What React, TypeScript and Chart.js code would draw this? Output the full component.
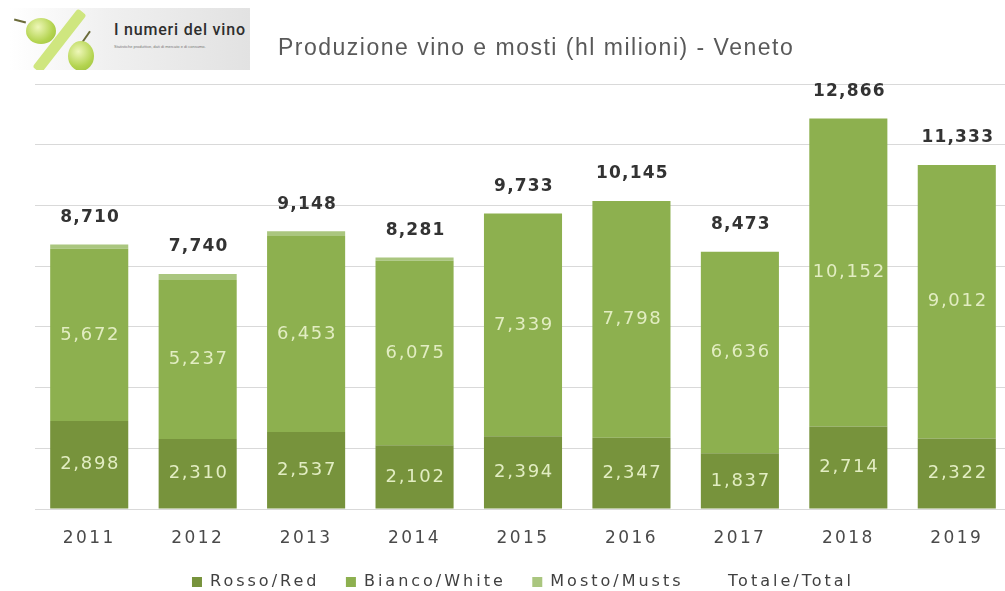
import React, { useEffect, useRef } from "react";
import { Chart, registerables } from "chart.js";
Chart.register(...registerables);

const years = ["2011", "2012", "2013", "2014", "2015", "2016", "2017", "2018", "2019"];
const rosso = [2898, 2310, 2537, 2102, 2394, 2347, 1837, 2714, 2322];
const bianco = [5672, 5237, 6453, 6075, 7339, 7798, 6636, 10152, 9012];
const mosto = [140, 193, 158, 104, 0, 0, 0, 0, 0];
const totale = [8710, 7740, 9148, 8281, 9733, 10145, 8473, 12866, 11333];
const seriesNames = ["Rosso/Red", "Bianco/White", "Mosto/Musts", "Totale/Total"];
const title = "Produzione vino e mosti (hl milioni) - Veneto";

const C_ROSSO = "#77933c";
const C_BIANCO = "#8db04f";
const C_MOSTO = "#aac67f";

const fmt = (v: number) => v.toLocaleString("en-US");

const spacingPlugin = {
  id: "spacing",
  beforeLayout(chart: any) {
    chart.ctx.letterSpacing = "3px";
  },
  beforeDraw(chart: any) {
    chart.ctx.letterSpacing = "3px";
  },
};

const labelPlugin = {
  id: "labels",
  afterDatasetsDraw(chart: any) {
    const ctx = chart.ctx;
    ctx.save();
    ctx.textAlign = "center";
    ctx.textBaseline = "middle";
    ctx.font = "18px 'DejaVu Sans'";
    ctx.letterSpacing = "1.7px";
    ctx.fillStyle = "#e2edc2";
    [0, 1].forEach((di) => {
      const meta = chart.getDatasetMeta(di);
      meta.data.forEach((el: any, i: number) => {
        const v = chart.data.datasets[di].data[i];
        ctx.fillText(fmt(v), el.x + 1, (el.y + el.base) / 2);
      });
    });
    const ys = chart.scales.y;
    const meta0 = chart.getDatasetMeta(0);
    ctx.font = "bold 17px 'DejaVu Sans'";
    ctx.letterSpacing = "1.2px";
    ctx.fillStyle = "#333333";
    totale.forEach((t, i) => {
      const x = meta0.data[i].x;
      ctx.fillText(fmt(t), x + 1, ys.getPixelForValue(t) - 27);
    });
    ctx.restore();
    // spacing for x-axis labels drawn afterwards (ticks z = 1)
    ctx.letterSpacing = "2.4px";
  },
};

export default function App() {
  const ref = useRef<HTMLCanvasElement>(null);
  useEffect(() => {
    const chart = new Chart(ref.current!, {
      type: "bar",
      data: {
        labels: years,
        datasets: [
          { label: seriesNames[0], data: rosso, backgroundColor: C_ROSSO, stack: "s", categoryPercentage: 0.72, barPercentage: 1 } as any,
          { label: seriesNames[1], data: bianco, backgroundColor: C_BIANCO, stack: "s", categoryPercentage: 0.72, barPercentage: 1 } as any,
          { label: seriesNames[2], data: mosto, backgroundColor: C_MOSTO, stack: "s", categoryPercentage: 0.72, barPercentage: 1 } as any,
          {
            type: "line",
            label: seriesNames[3],
            data: totale,
            backgroundColor: "rgba(0,0,0,0)",
            borderColor: "rgba(0,0,0,0)",
            showLine: false,
            pointRadius: 0,
            stack: "t",
          } as any,
        ],
      },
      options: {
        animation: false,
        responsive: false,
        maintainAspectRatio: false,
        layout: { padding: { left: 35, right: 0, top: 84, bottom: 0 } },
        plugins: {
          legend: {
            position: "bottom",
            labels: {
              boxWidth: 10,
              boxHeight: 10,
              padding: 26.5,
              color: "#404040",
              font: { family: "'DejaVu Sans'", size: 16, lineHeight: 1 },
            },
          },
          tooltip: { enabled: false },
          title: { display: false },
        },
        scales: {
          x: {
            stacked: true,
            grid: { display: false, drawTicks: false },
            border: { display: false },
            ticks: { z: 1, color: "#4a4a4a", padding: 21, font: { family: "'DejaVu Sans'", size: 17, lineHeight: 1 } },
            afterFit(scale: any) {
              scale.height = 38.5;
            },
          } as any,
          y: {
            stacked: true,
            min: 0,
            max: 14000,
            ticks: { display: false, stepSize: 2000 },
            grid: { color: "#d9d9d9", drawTicks: false, lineWidth: 1 },
            border: { display: false },
          },
        },
      },
      plugins: [spacingPlugin, labelPlugin],
    });
    return () => chart.destroy();
  }, []);

  const grape = "radial-gradient(circle at 40% 35%, #eef7b8, #b4d450 60%, #98bd3a)";
  return (
    <div style={{ position: "fixed", left: 0, top: 0, width: 1005, height: 591, overflow: "hidden", background: "#fff" }}>
      <canvas ref={ref} width={1011} height={600} style={{ position: "absolute", left: 0, top: 0, width: 1011, height: 600 }} />
      <div
        style={{
          position: "absolute",
          left: 10,
          top: 8,
          width: 240,
          height: 62,
          background: "linear-gradient(90deg, #ffffff 0%, #f0f0f0 40%, #e2e2e2 100%)",
          overflow: "hidden",
        }}
      >
        <div style={{ position: "absolute", left: 44, top: -4, width: 11, height: 74, background: "#cfe67f", transform: "rotate(38deg)", borderRadius: 3 }} />
        <div style={{ position: "absolute", left: 4, top: 12, width: 12, height: 2, background: "#6b6b3a", transform: "rotate(15deg)" }} />
        <div style={{ position: "absolute", left: 16, top: 10, width: 30, height: 26, borderRadius: "50%", background: grape }} />
        <div style={{ position: "absolute", left: 75, top: 22, width: 2, height: 14, background: "#6b6b3a", transform: "rotate(35deg)" }} />
        <div style={{ position: "absolute", left: 58, top: 33, width: 26, height: 30, borderRadius: "50%", background: grape }} />
        <div style={{ position: "absolute", left: 104, top: 12, fontFamily: "'Roboto', 'Liberation Sans'", fontSize: 16, fontWeight: 500, color: "#2e2e2e", letterSpacing: 0.8, whiteSpace: "nowrap" }}>
          I numeri del vino
        </div>
        <div style={{ position: "absolute", left: 104, top: 36, fontFamily: "'Liberation Sans'", fontSize: 4, color: "#777", whiteSpace: "nowrap" }}>
          Statistiche produttive, dati di mercato e di consumo.
        </div>
      </div>
      <div
        style={{
          position: "absolute",
          left: 278,
          top: 34,
          fontFamily: "'Liberation Sans'",
          fontSize: 23,
          letterSpacing: 1.5,
          color: "#595959",
          whiteSpace: "nowrap",
        }}
      >
        {title}
      </div>
    </div>
  );
}
